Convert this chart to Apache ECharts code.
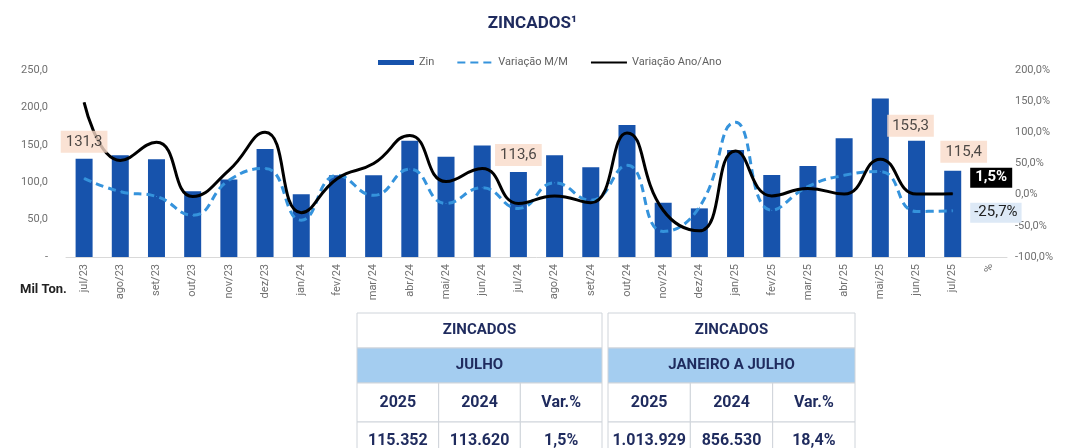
<!DOCTYPE html>
<html lang="pt">
<head>
<meta charset="utf-8">
<title>Zincados</title>
<script src="https://cdn.jsdelivr.net/npm/echarts@6/dist/echarts.min.js"></script>
<style>
  html, body { margin: 0; padding: 0; background: #fff; }
  #chart { width: 1065px; height: 448px; }
</style>
</head>
<body>
<div id="chart"></div>
<script>
// categorias (o "%" final e so o rotulo da escala da direita)
var months = ['jul/23','ago/23','set/23','out/23','nov/23','dez/23','jan/24','fev/24','mar/24','abr/24','mai/24','jun/24',
              'jul/24','ago/24','set/24','out/24','nov/24','dez/24','jan/25','fev/25','mar/25','abr/25','mai/25','jun/25','jul/25','%'];
// Mil Ton.
var zin = [131.3,136.0,130.7,88.0,103.6,144.4,84.0,109.3,109.3,155.5,134.0,149.0,
           113.6,136.0,120.0,176.5,72.6,65.0,143.0,109.6,121.6,158.7,212.0,155.3,115.4];
// %
var varMM = [26,5,-3,-33,23,42,-41,31,-1,41,-14,11,
             -22,19,-9,47,-59,-20,116,-25,13,31,37,-27,-25.7];
var varAA = [148,55,84,-3,39,100,-29,26,50,95,21,42,
             -14,-2,-13,99,-25,-58,70,-2,10,1,57,1,1.5];

// tabelas
var tableTitle = 'ZINCADOS';
var tablePeriods = ['JULHO', 'JANEIRO A JULHO'];
var tableHeads = ['2025', '2024', 'Var.%'];
var tableValues = [['115.352', '113.620', '1,5%'], ['1.013.929', '856.530', '18,4%']];

var navy = '#1f2b5e';
var fmt = function (v) { return v.toFixed(1).replace('.', ','); };

// rotulos destacados nas barras (serie por cima das linhas)
var barLabels = {
  0:  { offset: [0, 0],  distance: 6 },
  12: { offset: [0, 0],  distance: 6 },
  23: { offset: [-6, 0], distance: 4 },
  24: { offset: [11, 0], distance: 8 }
};
var labelData = zin.map(function (v, i) {
  if (!barLabels[i]) return null;
  return { value: v, label: Object.assign({
    show: true, position: 'top', backgroundColor: '#f9dbc9', color: '#222',
    fontFamily: 'Roboto', fontSize: 15, padding: [4, 5, 3, 5],
    formatter: function (p) { return fmt(p.value); }
  }, barLabels[i]) };
});

var last = zin.length - 1;
var mmData = varMM.map(function (v, i) {
  if (i !== last) return v;
  return { value: v, label: {
    show: true, position: 'right', distance: 17, offset: [0, 2],
    backgroundColor: '#dde9f6', color: '#222', fontFamily: 'Roboto', fontSize: 15,
    padding: [3, 4, 2, 4], formatter: function (p) { return fmt(p.value) + '%'; }
  } };
});
var aaData = varAA.map(function (v, i) {
  if (i !== last) return v;
  return { value: v, label: {
    show: true, position: 'right', distance: 17, offset: [0, -16],
    backgroundColor: '#000', color: '#fff', fontWeight: 'bold', fontFamily: 'Roboto', fontSize: 15,
    padding: [3, 5, 2, 5], formatter: function (p) { return fmt(p.value) + '%'; }
  } };
});

// desenho das tabelas
var graphics = [{
  type: 'text', left: 20, top: 283,
  style: { text: 'Mil Ton.', fill: '#222', font: 'bold 13px Roboto, sans-serif' }
}];
var tabX = [357, 608], tabW = [245, 247];
var rowY = [313, 348, 383, 422], rowH = [35, 35, 39, 38];
tabX.forEach(function (x0, t) {
  var w = tabW[t];
  var rows = [[tableTitle], [tablePeriods[t]], tableHeads, tableValues[t]];
  rows.forEach(function (cells, r) {
    var n = cells.length;
    cells.forEach(function (txt, c) {
      var cx = x0 + c * (w / n), ww = w / n;
      graphics.push({
        type: 'rect', shape: { x: cx, y: rowY[r], width: ww, height: rowH[r] },
        style: { fill: r === 1 ? '#a4cdf0' : '#fff', stroke: '#cfd4da', lineWidth: 1 }
      });
      graphics.push({
        type: 'text', x: cx + ww / 2, y: rowY[r] + rowH[r] / 2,
        style: { text: txt, fill: navy, font: (r < 2 ? 'bold 15px' : 'bold 16px') + ' Roboto, sans-serif',
                 textAlign: 'center', textVerticalAlign: 'middle' }
      });
    });
  });
});

var chart = echarts.init(document.getElementById('chart'));
chart.setOption({
  animation: false,
  textStyle: { fontFamily: 'Roboto' },
  title: {
    text: 'ZINCADOS\u00b9', left: 'center', top: 10,
    textStyle: { color: navy, fontSize: 17, fontWeight: 'bold', fontFamily: 'Roboto' }
  },
  legend: {
    top: 52, left: 373, itemWidth: 36, itemHeight: 5, itemGap: 22,
    textStyle: { color: '#606060', fontSize: 11 },
    data: [
      { name: 'Zin', icon: 'rect' },
      { name: 'Variação M/M', itemStyle: { opacity: 0 } },
      { name: 'Variação Ano/Ano', itemStyle: { opacity: 0 } }
    ]
  },
  grid: { left: 66, right: 58, top: 70, bottom: 191 },
  xAxis: {
    type: 'category', data: months,
    axisLine: { lineStyle: { color: '#d9d9d9' } },
    axisTick: { show: false },
    axisLabel: { rotate: 90, color: '#707070', fontSize: 11, margin: 7 }
  },
  yAxis: [{
    type: 'value', min: 0, max: 250, interval: 50,
    splitLine: { show: false },
    axisLabel: { color: '#707070', fontSize: 11, margin: 18,
      formatter: function (v) { return v === 0 ? '-' : fmt(v); } }
  }, {
    type: 'value', min: -100, max: 200, interval: 50,
    splitLine: { show: false },
    axisLabel: { color: '#707070', fontSize: 11, margin: 8,
      formatter: function (v) { return fmt(v) + '%'; } }
  }],
  series: [{
    name: 'Zin', type: 'bar', data: zin, barWidth: 17, z: 1,
    itemStyle: { color: '#1753ac' }
  }, {
    name: 'Variação M/M', type: 'line', yAxisIndex: 1, data: mmData, z: 2,
    smooth: 0.5, symbol: 'circle', symbolSize: 1,
    lineStyle: { color: '#3593dc', width: 3, type: [8, 5] },
    itemStyle: { color: '#3593dc' }
  }, {
    name: 'Variação Ano/Ano', type: 'line', yAxisIndex: 1, data: aaData, z: 3,
    smooth: 0.5, symbol: 'circle', symbolSize: 1,
    lineStyle: { color: '#000', width: 3 },
    itemStyle: { color: '#000' }
  }, {
    name: 'rotulos', type: 'scatter', data: labelData, z: 10, zlevel: 1,
    symbolSize: 0, silent: true
  }],
  graphic: graphics
});
</script>
</body>
</html>
